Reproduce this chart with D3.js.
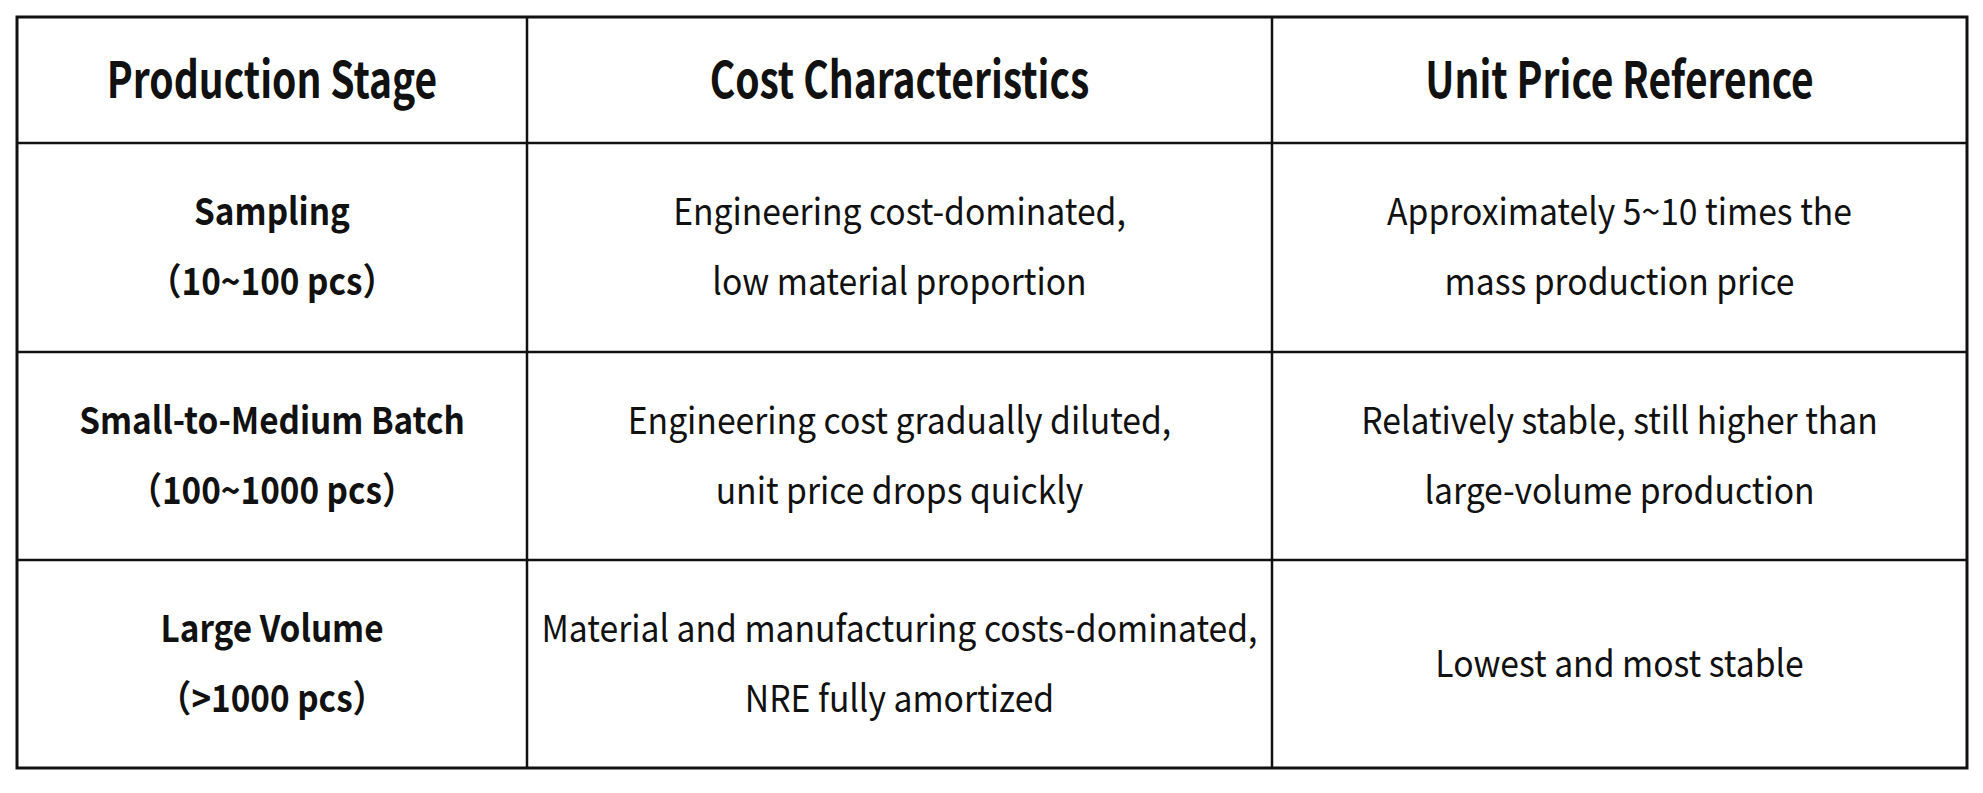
<!DOCTYPE html>
<html><head><meta charset="utf-8">
<script src="https://cdn.jsdelivr.net/npm/d3@7"></script>
<style>body{margin:0;background:#fff}svg{display:block}</style>
</head><body>
<div id="chart"></div>
<script>
const headers = ["Production Stage", "Cost Characteristics", "Unit Price Reference"];
const stages = [["Sampling", "（10~100 pcs）"], ["Small-to-Medium Batch", "（100~1000 pcs）"], ["Large Volume", "（>1000 pcs）"]];
const costs = [["Engineering cost-dominated,", "low material proportion"], ["Engineering cost gradually diluted,", "unit price drops quickly"], ["Material and manufacturing costs-dominated,", "NRE fully amortized"]];
const prices = [["Approximately 5~10 times the", "mass production price"], ["Relatively stable, still higher than", "large-volume production"], ["Lowest and most stable"]];

const width = 1983, height = 793;
const colEdges = [17, 527, 1272, 1967];
const rowEdges = [17, 143, 352, 560, 768];
const font = "'Noto Sans CJK KR', 'Noto Sans', sans-serif";

const svg = d3.select("#chart").append("svg").attr("width", width).attr("height", height);

function cellText(ci, ri, lines, size, weight, sx) {
	const cx = (colEdges[ci] + colEdges[ci + 1]) / 2;
	const cy = (rowEdges[ri] + rowEdges[ri + 1]) / 2;
	const gap = 70;
	const g = svg.append("g").attr("transform", `translate(${cx},${cy}) scale(${sx},1)`);
	g.selectAll("text").data(lines).enter().append("text")
		.attr("x", 0)
		.attr("y", (d, i) => (i - (lines.length - 1) / 2) * gap)
		.attr("dy", "0.35em")
		.attr("text-anchor", "middle")
		.style("font-family", font)
		.style("font-size", size + "px")
		.style("font-weight", weight)
		.style("fill", "#111")
		.text(d => d);
}

headers.forEach((h, i) => cellText(i, 0, [h], 50, 700, 0.78));
stages.forEach((s, i) => cellText(0, i + 1, s, 37, 700, 0.9));
costs.forEach((s, i) => cellText(1, i + 1, s, 37, 400, 0.91));
prices.forEach((s, i) => cellText(2, i + 1, s, 37, 400, 0.91));

// grid lines
svg.append("rect").attr("x", colEdges[0]).attr("y", rowEdges[0])
	.attr("width", colEdges[3] - colEdges[0]).attr("height", rowEdges[4] - rowEdges[0])
	.attr("fill", "none").attr("stroke", "#111").attr("stroke-width", 3);
svg.selectAll("line.v").data(colEdges.slice(1, 3)).enter().append("line")
	.attr("x1", d => d).attr("x2", d => d).attr("y1", rowEdges[0]).attr("y2", rowEdges[4])
	.attr("stroke", "#111").attr("stroke-width", 2.5);
svg.selectAll("line.h").data(rowEdges.slice(1, 4)).enter().append("line")
	.attr("x1", colEdges[0]).attr("x2", colEdges[3]).attr("y1", d => d).attr("y2", d => d)
	.attr("stroke", "#111").attr("stroke-width", 2.5);
</script>
</body></html>
